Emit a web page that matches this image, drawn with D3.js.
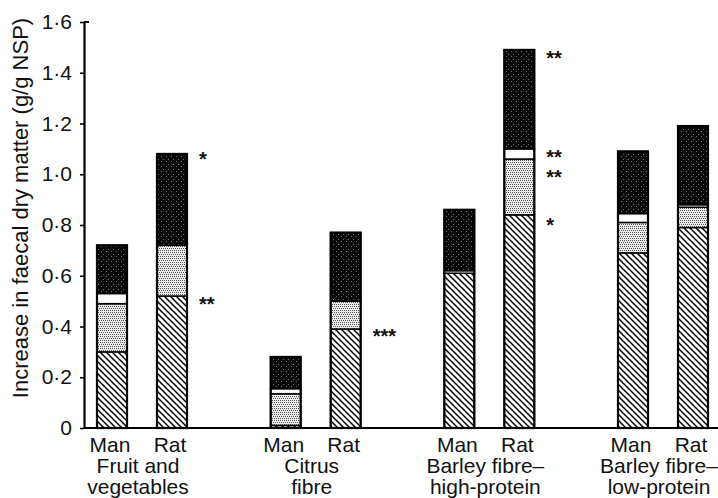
<!DOCTYPE html>
<html>
<head>
<meta charset="utf-8">
<script src="https://cdn.jsdelivr.net/npm/d3@7"></script>
<style>
  body { margin: 0; background: #fff; }
  svg text { font-family: "Liberation Sans", Arial, sans-serif; fill: #111; }
</style>
</head>
<body>
<svg id="chart"></svg>
<script>
'use strict';

const groups = ['Fruit and vegetables', 'Citrus fibre', 'Barley fibre-high-protein', 'Barley fibre-low-protein'];
const groupLines = [['Fruit and', 'vegetables'], ['Citrus', 'fibre'], ['Barley fibre\u2013', 'high-protein'], ['Barley fibre\u2013', 'low-protein']];
const species = ['Man', 'Rat'];

// one value per bar, order: group0 Man, group0 Rat, group1 Man, ...
const hatched = [0.30, 0.52, 0.01, 0.39, 0.61, 0.84, 0.69, 0.79];
const dotted  = [0.19, 0.20, 0.125, 0.11, 0.00, 0.22, 0.12, 0.08];
const blank   = [0.04, 0.00, 0.02, 0.00, 0.01, 0.04, 0.035, 0.01];
const dark    = [0.19, 0.36, 0.125, 0.27, 0.24, 0.39, 0.245, 0.31];

const yTicks = [0, 0.2, 0.4, 0.6, 0.8, 1.0, 1.2, 1.4, 1.6];

// significance marks: group index, species, value, text
const stars = [
  [0, 'Rat', 1.07, '*'],
  [0, 'Rat', 0.50, '**'],
  [1, 'Rat', 0.375, '***'],
  [2, 'Rat', 1.47, '**'],
  [2, 'Rat', 1.08, '**'],
  [2, 'Rat', 1.00, '**'],
  [2, 'Rat', 0.81, '*'],
];

const width = 718;
const height = 498;
const keys = ['hatched', 'dotted', 'blank', 'dark'];

const rows = [];
groups.forEach((g, gi) => {
  species.forEach((s, si) => {
    const i = gi * 2 + si;
    rows.push({ group: g, species: s, hatched: hatched[i], dotted: dotted[i], blank: blank[i], dark: dark[i] });
  });
});

const svg = d3.select('#chart')
  .attr('width', width)
  .attr('height', height);

// patterns
const defs = svg.append('defs');
const hatch = defs.append('pattern')
  .attr('id', 'hatch')
  .attr('patternUnits', 'userSpaceOnUse')
  .attr('width', 6).attr('height', 6);
hatch.append('rect').attr('width', 6).attr('height', 6).attr('fill', '#fff');
hatch.append('path')
  .attr('d', 'M-1,-1 L7,7 M-1,5 L1,7 M5,-1 L7,1')
  .attr('stroke', '#000')
  .attr('stroke-width', 1.5);

// stipple: dots on an offset grid so they do not line up into stripes
const dots = defs.append('pattern')
  .attr('id', 'dots')
  .attr('patternUnits', 'userSpaceOnUse')
  .attr('width', 6).attr('height', 6);
dots.append('rect').attr('width', 6).attr('height', 6).attr('fill', '#ececec');
[[0, 0], [2, 0], [4, 0], [1, 2], [3, 2], [5, 2], [0, 4], [2, 4], [4, 4]].forEach(p => {
  dots.append('rect').attr('x', p[0]).attr('y', p[1]).attr('width', 1).attr('height', 1).attr('fill', '#555');
});

const darkPat = defs.append('pattern')
  .attr('id', 'darkdots')
  .attr('patternUnits', 'userSpaceOnUse')
  .attr('width', 5).attr('height', 5);
darkPat.append('rect').attr('width', 5).attr('height', 5).attr('fill', '#080808');
[[1, 1], [3, 4]].forEach(p => {
  darkPat.append('rect').attr('x', p[0]).attr('y', p[1]).attr('width', 1).attr('height', 1).attr('fill', '#6f6f6f');
});

const fills = { hatched: 'url(#hatch)', dotted: 'url(#dots)', blank: '#fff', dark: 'url(#darkdots)' };

// scales
const x0 = d3.scalePoint()
  .domain(groups)
  .range([142, 663]);

const x1 = d3.scaleBand()
  .domain(species)
  .range([-60, 60])
  .paddingInner(0.5)
  .paddingOuter(0.25);

const y = d3.scaleLinear()
  .domain([0, 1.6])
  .range([428, 22]);

const series = d3.stack().keys(keys)(rows);

// bars
svg.append('g')
  .selectAll('g')
  .data(series)
  .enter()
  .append('g')
  .attr('fill', (d) => fills[d.key])
  .selectAll('rect')
  .data((d) => d.filter((p) => p[1] - p[0] > 0))
  .enter()
  .append('rect')
  .attr('x', (d) => x0(d.data.group) + x1(d.data.species))
  .attr('y', (d) => y(d[1]))
  .attr('width', x1.bandwidth())
  .attr('height', (d) => y(d[0]) - y(d[1]))
  .attr('stroke', '#000')
  .attr('stroke-width', 1.5);

// outer frame of each bar
svg.append('g')
  .selectAll('rect')
  .data(rows)
  .enter()
  .append('rect')
  .attr('x', (d) => x0(d.group) + x1(d.species))
  .attr('y', (d) => y(d.hatched + d.dotted + d.blank + d.dark))
  .attr('width', x1.bandwidth())
  .attr('height', (d) => y(0) - y(d.hatched + d.dotted + d.blank + d.dark))
  .attr('fill', 'none')
  .attr('stroke', '#000')
  .attr('stroke-width', 2.2);

// y axis
const yAxis = svg.append('g')
  .attr('transform', `translate(${84},0)`)
  .call(d3.axisLeft(y)
    .tickValues(yTicks)
    .tickSize(4)
    .tickSizeOuter(0)
    .tickPadding(8)
    .tickFormat((d) => d === 0 ? '0' : d3.format('.1f')(d).replace('.', '\u00b7')));
yAxis.select('.domain').attr('stroke', '#000').attr('stroke-width', 2.2);
yAxis.selectAll('.tick line').attr('stroke', '#000').attr('stroke-width', 1.6);
yAxis.selectAll('.tick text')
  .attr('font-size', '21px')
  .attr('fill', '#111');
yAxis.append('line')
  .attr('x1', 0).attr('x2', 5)
  .attr('y1', y(1.6)).attr('y2', y(1.6))
  .attr('stroke', '#000')
  .attr('stroke-width', 2);

// x axis baseline
svg.append('line')
  .attr('x1', 84).attr('x2', width)
  .attr('y1', y(0)).attr('y2', y(0))
  .attr('stroke', '#000')
  .attr('stroke-width', 2.2);

// y label
svg.append('text')
  .attr('transform', `translate(28,${(y(0) + y(1.6)) / 2 - 17}) rotate(-90)`)
  .attr('text-anchor', 'middle')
  .attr('font-size', '22px')
  .text('Increase in faecal dry matter (g/g NSP)');

// species labels
svg.append('g')
  .selectAll('text')
  .data(rows)
  .enter()
  .append('text')
  .attr('x', (d) => x0(d.group) + x1(d.species) + x1.bandwidth() / 2 - 2)
  .attr('y', 452)
  .attr('text-anchor', 'middle')
  .attr('font-size', '21px')
  .text((d) => d.species);

// group labels
const gl = svg.append('g')
  .selectAll('text')
  .data(groups)
  .enter()
  .append('text')
  .attr('x', (d) => x0(d) - 4)
  .attr('y', 473)
  .attr('text-anchor', 'middle')
  .attr('font-size', '21px');
gl.selectAll('tspan')
  .data((d, i) => groupLines[i])
  .enter()
  .append('tspan')
  .attr('x', function() { return this.parentNode.getAttribute('x'); })
  .attr('dy', (d, i) => i === 0 ? 0 : 21)
  .text((d) => d);

// significance marks
svg.append('g')
  .selectAll('text')
  .data(stars)
  .enter()
  .append('text')
  .attr('x', (d) => x0(groups[d[0]]) + x1(d[1]) + x1.bandwidth() + 12)
  .attr('y', (d) => y(d[2]) + 10)
  .attr('font-size', '20px')
  .attr('font-weight', 'bold')
  .text((d) => d[3]);
</script>
</body>
</html>
